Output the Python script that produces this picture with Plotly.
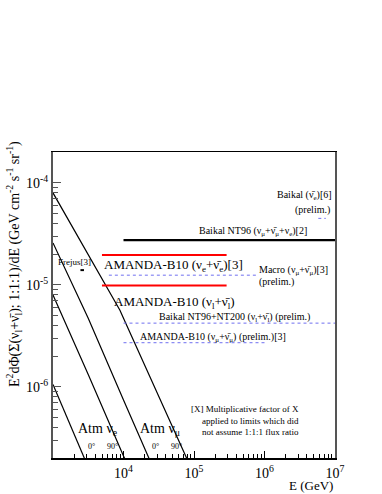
import numpy as np
import plotly.graph_objects as go

# ---------------- data ----------------
# Atmospheric neutrino curves (E in GeV, E^2 dPhi/dE)
atm_e_nue0 = [1e3, 3.16e3, 1e4]
atm_f_nue0 = [1.05e-6, 1.66e-7, 2.5e-8]
atm_e_nue90 = [1e3, 3.16e3, 1e4, 3.16e4]
atm_f_nue90 = [7.94e-6, 1.32e-6, 2.09e-7, 4.0e-8]
atm_e_numu0 = [1e3, 2.82e3, 3.16e3, 1e4, 3.16e4]
atm_f_numu0 = [2.57e-5, 5.62e-6, 4.68e-6, 7.4e-7, 1.2e-7]
atm_e_numu90 = [1e3, 3.16e3, 8.9e3, 1e4, 3.16e4, 1e5]
atm_f_numu90 = [7.94e-5, 2.0e-5, 5.62e-6, 4.68e-6, 8.1e-7, 1.38e-7]

# Limits: [E_min, E_max], flux level
baikal_nt96_e = [1e4, 1e7]
baikal_nt96_f = 2.73e-5
amanda_nue_e = [4.95e3, 2.9e5]
amanda_nue_f = 1.95e-5
amanda_nul_e = [4.95e3, 2.9e5]
amanda_nul_f = 9.8e-6
macro_e = [6.2e3, 8.1e5]
macro_f = 1.24e-5
baikal_nt200_e = [1e4, 1e7]
baikal_nt200_f = 4.2e-6
amanda_numu_e = [1e4, 1e6]
amanda_numu_f = 2.7e-6
baikal_nuebar_e = [5.8e6, 7.4e6]
baikal_nuebar_f = 4.47e-5
frejus_e = [2.45e3, 2.75e3]
frejus_f = 1.39e-5

x_tickvals = [1e4, 1e5, 1e6, 1e7]
x_ticktext = ["10<sup>4</sup>", "10<sup>5</sup>", "10<sup>6</sup>", "10<sup>7</sup>"]
y_tickvals = [1e-4, 1e-5, 1e-6]
y_ticktext = ["10<sup>-4</sup>", "10<sup>-5</sup>", "10<sup>-6</sup>"]

FONT = "Liberation Serif"
BLUE = "#6f6ff0"
NB = "\u03bd\u0304"  # nu-bar

fig = go.Figure()

def line(x, y, color, width, dash=None):
    fig.add_trace(go.Scatter(x=x, y=y, mode="lines",
                             line=dict(color=color, width=width, dash=dash),
                             showlegend=False, hoverinfo="skip"))

for ex, fx in [(atm_e_nue0, atm_f_nue0), (atm_e_nue90, atm_f_nue90),
               (atm_e_numu0, atm_f_numu0), (atm_e_numu90, atm_f_numu90)]:
    line(ex, fx, "black", 1.2)

line(baikal_nt96_e, [baikal_nt96_f] * 2, "black", 2.2)
line(amanda_nue_e, [amanda_nue_f] * 2, "#ff0000", 2)
line(amanda_nul_e, [amanda_nul_f] * 2, "#ff0000", 2)
line(macro_e, [macro_f] * 2, BLUE, 1, "dot")
line(baikal_nt200_e, [baikal_nt200_f] * 2, BLUE, 1, "dot")
line(amanda_numu_e, [amanda_numu_f] * 2, BLUE, 1, "dot")
line(baikal_nuebar_e, [baikal_nuebar_f] * 2, BLUE, 1, "dot")
line(frejus_e, [frejus_f] * 2, "black", 2)

def ann(text, lx, ly, size, xanchor="left", align="left"):
    fig.add_annotation(text=text, x=lx, y=ly, xref="x", yref="y",
                       showarrow=False, xanchor=xanchor, yanchor="middle",
                       align=align, font=dict(family=FONT, size=size, color="black"))

ann(f"Baikal ({NB}<sub>e</sub>)[6]", 6.99, -4.13, 10, "right")
ann("(prelim.)", 6.96, -4.27, 10, "right")
ann(f"Baikal NT96 (\u03bd<sub>\u03bc</sub>+{NB}<sub>\u03bc</sub>+\u03bd<sub>e</sub>)[2]", 5.84, -4.475, 10, "center")
ann(f"AMANDA-B10 (\u03bd<sub>e</sub>+{NB}<sub>e</sub>)[3]", 3.70, -4.81, 13)
ann(f"AMANDA-B10 (\u03bd<sub>l</sub>+{NB}<sub>l</sub>)", 3.83, -5.17, 13)
ann(f"Macro (\u03bd<sub>\u03bc</sub>+{NB}<sub>\u03bc</sub>)[3]", 5.90, -4.865, 10)
ann("(prelim.)", 5.90, -4.975, 10)
ann(f"Baikal NT96+NT200 (\u03bd<sub>l</sub>+{NB}<sub>l</sub>) (prelim.)", 4.47, -5.318, 10)
ann(f"AMANDA-B10 (\u03bd<sub>\u03bc</sub>+{NB}<sub>\u03bc</sub>) (prelim.)[3]", 4.20, -5.514, 10)
ann("Frejus[3]", 3.04, -4.778, 9)
ann("Atm \u03bd<sub>e</sub>", 3.33, -6.42, 14)
ann("Atm \u03bd<sub>\u03bc</sub>", 4.20, -6.42, 14)
ann("0\u00b0", 3.47, -6.59, 8)
ann("90\u00b0", 3.74, -6.59, 8)
ann("0\u00b0", 4.37, -6.59, 8)
ann("90\u00b0", 4.64, -6.59, 8)
ann("[X] Multiplicative factor of X<br>applied to limits which did<br>not assume 1:1:1 flux ratio",
    6.52, -6.33, 9, "right", "right")

# axis titles
fig.add_annotation(text="E<sup>2</sup>d\u03a6(\u03a3(\u03bd<sub>l</sub>+" + NB + "<sub>l</sub>); 1:1:1)/dE (GeV cm<sup>-2</sup> s<sup>-1</sup> sr<sup>-1</sup>)",
                   xref="paper", yref="paper", x=-0.138, y=0.634, textangle=-90,
                   showarrow=False, xanchor="center", yanchor="middle",
                   font=dict(family=FONT, size=14, color="black"))
fig.add_annotation(text="E (GeV)", xref="paper", yref="paper", x=1.0, y=-0.09,
                   showarrow=False, xanchor="right", yanchor="middle",
                   font=dict(family=FONT, size=13, color="black"))

x_minor = [m * 10.0 ** d for d in range(3, 7) for m in range(2, 10)]
y_minor = [m * 10.0 ** d for d in range(-7, -3) for m in range(2, 10)]

fig.update_xaxes(type="log", range=[3, 7], tickvals=x_tickvals, ticktext=x_ticktext,
                 ticks="inside", ticklen=7, tickcolor="black", showgrid=False, zeroline=False,
                 showline=True, linecolor="black", linewidth=1.5, mirror=True,
                 ticklabelstandoff=2,
                 tickfont=dict(family=FONT, size=14, color="black"),
                 minor=dict(tickvals=x_minor, ticks="inside", ticklen=4, tickcolor="black", showgrid=False))
fig.update_yaxes(type="log", range=[np.log10(2e-7), np.log10(2e-4)], tickvals=y_tickvals, ticktext=y_ticktext,
                 ticks="inside", ticklen=8, tickcolor="#555", showgrid=False, zeroline=False,
                 showline=True, linecolor="#555", linewidth=2, mirror=True,
                 tickfont=dict(family=FONT, size=14, color="black"),
                 minor=dict(tickvals=y_minor, ticks="inside", ticklen=5, tickcolor="#555", showgrid=False))

fig.update_layout(width=382, height=494, margin=dict(l=53, r=47, t=152, b=36),
                  paper_bgcolor="white", plot_bgcolor="white", showlegend=False,
                  hovermode=False,
                  font=dict(family=FONT, color="black"))

fig.write_html("out.html", config={"displayModeBar": False, "staticPlot": True},
               post_script="document.body.style.margin='0';document.body.style.overflow='hidden';")
